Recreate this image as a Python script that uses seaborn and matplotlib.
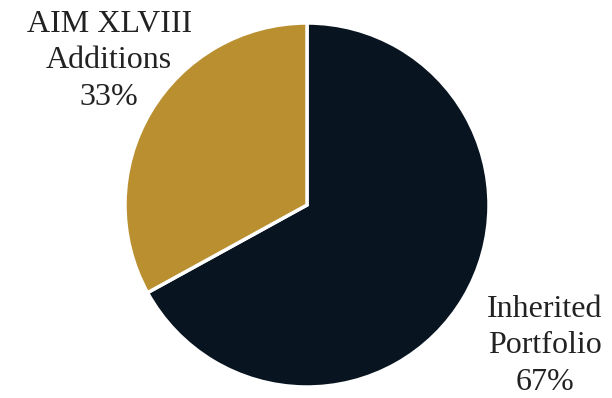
import numpy as np
import matplotlib
matplotlib.use("Agg")
import matplotlib.pyplot as plt
import seaborn as sns

# Portfolio composition
segments = ["Inherited\nPortfolio", "AIM XLVIII\nAdditions"]
shares = [67, 33]
colors = ["#081420", "#B98F30"]

# label placement: radial distance and angular nudge (degrees) from wedge midline
label_dist = [1.52, 1.345]
label_nudge = [0.0, -5.5]

sns.set_theme(style="white")
plt.rcParams["font.family"] = ["Liberation Serif", "DejaVu Serif"]

fig = plt.figure(figsize=(6.12, 3.98), dpi=100)
ax = fig.add_axes([125 / 612, 11 / 398, 364 / 612, 364 / 398])

wedges, _ = ax.pie(
    shares,
    colors=colors,
    startangle=90,
    counterclock=False,
    radius=1.0,
    wedgeprops=dict(edgecolor="white", linewidth=2.5),
)
ax.set_xlim(-1, 1)
ax.set_ylim(-1, 1)

for w, name, val, d, nudge in zip(wedges, segments, shares, label_dist, label_nudge):
    ang = np.deg2rad((w.theta1 + w.theta2) / 2 + nudge)
    ax.text(d * np.cos(ang), d * np.sin(ang), f"{name}\n{val}%",
            ha="center", va="center", fontsize=23, color="#222222",
            linespacing=1.35, clip_on=False)

fig.savefig("out.png", dpi=100)
